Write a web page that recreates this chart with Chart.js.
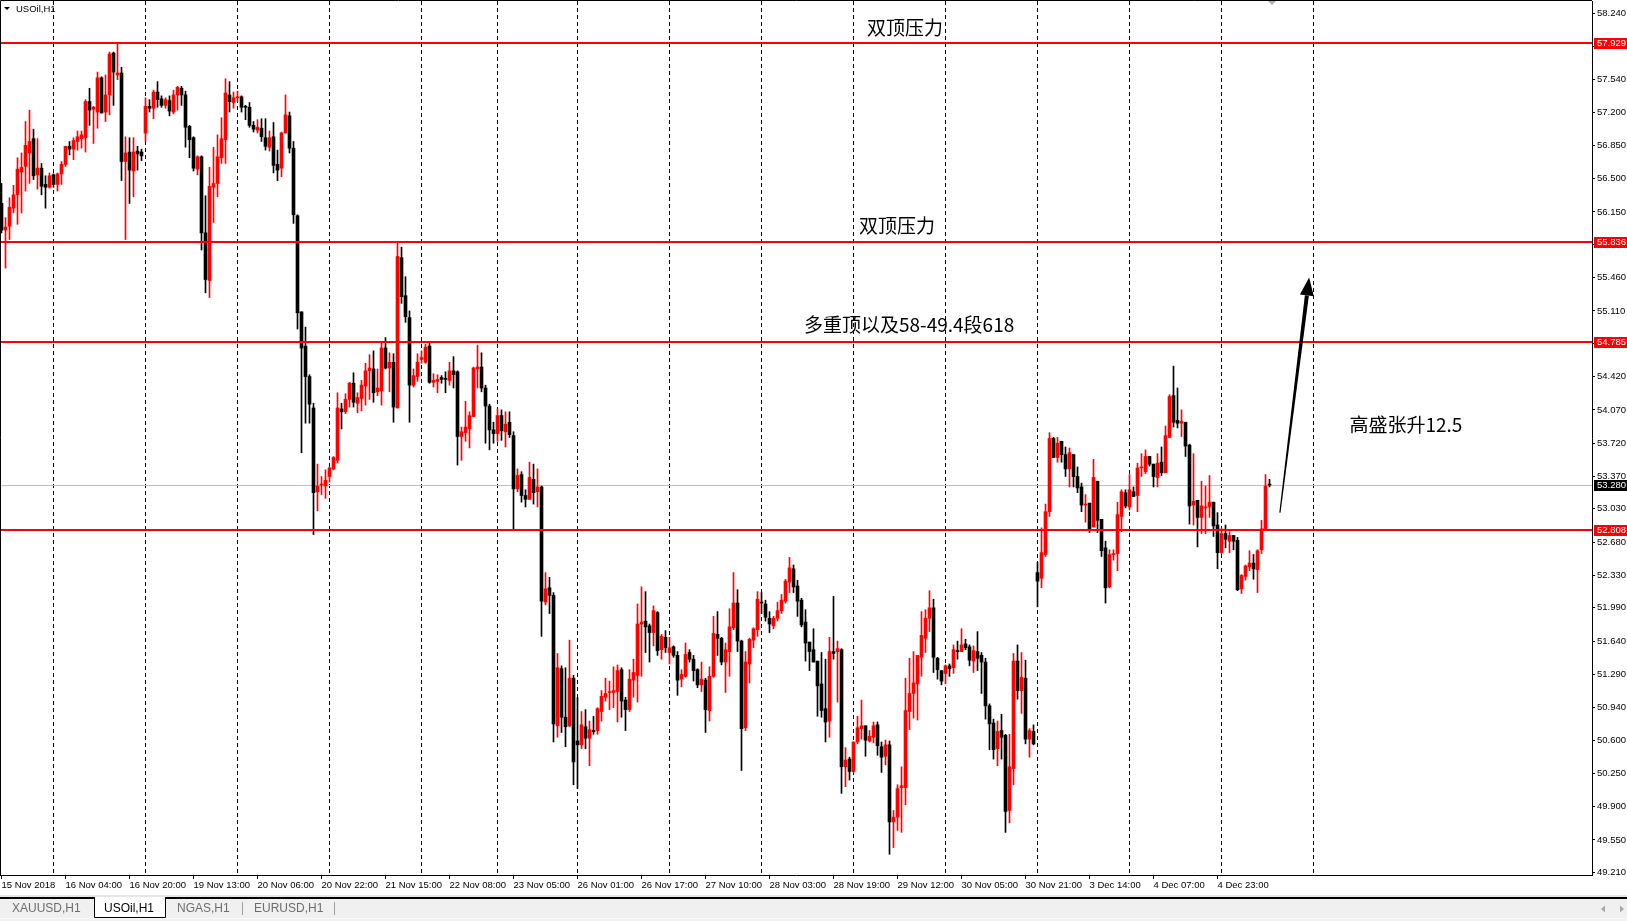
<!DOCTYPE html>
<html><head><meta charset="utf-8">
<script src="https://cdn.jsdelivr.net/npm/chart.js@4.4.1/dist/chart.umd.min.js"></script>
<style>html,body{margin:0;padding:0;background:#fff;overflow:hidden}canvas{display:block}</style>
</head><body>
<canvas id="c" width="1627" height="921"></canvas>
<script>
// ---------- data ----------
const symbol = 'USOil,H1';
const opens = [
56.24,55.96,56.00,56.19,56.33,56.57,56.63,56.77,56.92,56.54,
56.61,56.44,56.41,56.54,56.44,56.55,56.65,56.84,56.81,56.89,
56.92,56.93,57.31,57.23,57.20,57.56,57.20,57.38,57.82,57.59,
57.61,56.68,56.78,56.58,56.79,56.78,56.98,57.26,57.24,57.41,
57.34,57.27,57.32,57.20,57.38,57.45,57.38,57.05,56.93,56.60,
56.73,55.93,55.43,56.41,56.45,56.72,56.91,57.38,57.30,57.35,
57.36,57.26,57.25,57.06,57.01,57.03,56.93,56.83,56.94,56.65,
56.61,56.98,57.16,56.82,56.11,55.10,54.74,54.42,54.09,53.21,
53.28,53.27,53.37,53.45,53.54,54.08,54.05,54.18,54.35,54.14,
54.19,54.32,54.48,54.50,54.26,54.27,54.72,54.51,54.57,54.09,
55.67,55.27,55.04,54.33,54.42,54.60,54.57,54.74,54.36,54.37,
54.41,54.40,54.38,54.48,54.47,53.79,53.83,53.87,54.00,54.50,
54.52,54.30,54.11,53.86,53.82,54.01,53.84,53.94,53.80,53.24,
53.39,53.17,53.13,53.34,53.21,53.26,52.05,52.20,52.12,50.75,
51.35,50.84,50.75,51.25,50.59,50.55,50.74,50.62,50.70,50.70,
50.90,51.05,51.10,51.10,51.11,51.34,51.02,50.92,51.23,51.28,
51.82,51.85,51.80,51.73,51.94,51.55,51.68,51.52,51.58,51.49,
51.24,51.27,51.52,51.45,51.34,51.18,51.23,50.91,51.27,51.71,
51.67,51.42,51.53,51.78,52.04,51.64,50.73,51.40,51.65,51.76,
52.05,52.03,51.88,51.80,51.88,51.96,52.06,52.26,52.40,52.22,
52.07,51.84,51.63,51.55,51.43,51.19,50.93,50.80,51.53,51.53,
51.55,50.32,50.40,50.27,50.58,50.72,50.75,50.59,50.63,50.76,
50.53,50.43,50.55,49.74,49.79,50.10,50.10,50.90,51.09,51.19,
51.47,51.67,51.88,51.99,51.46,51.33,51.30,51.38,51.36,51.54,
51.53,51.61,51.58,51.43,51.53,51.49,51.42,50.96,50.78,50.51,
50.70,50.65,49.86,50.30,51.43,51.12,51.25,50.61,50.69,52.36,
52.30,52.55,53.00,53.77,53.57,53.74,53.60,53.45,53.60,53.37,
53.26,53.07,53.09,52.84,53.32,52.92,52.62,52.21,52.55,52.56,
52.95,53.20,53.05,53.21,53.17,53.46,53.42,53.58,53.50,53.36,
53.52,53.41,53.78,54.22,53.96,53.93,53.94,53.70,53.07,53.12,
52.94,53.04,53.05,53.10,52.86,52.57,52.77,52.69,52.75,52.70,
52.19,52.32,52.42,52.46,52.39,52.60,52.81,53.29];
const highs = [
56.45,56.09,56.30,56.43,56.72,56.77,57.10,57.22,57.02,56.92,
56.66,56.53,56.56,56.55,56.56,56.68,56.84,56.89,56.93,57.00,
57.00,57.33,57.45,57.26,57.62,57.57,57.59,57.83,57.83,57.93,
57.67,56.94,56.93,56.93,56.84,56.81,57.35,57.33,57.43,57.52,
57.37,57.35,57.37,57.43,57.47,57.47,57.42,57.06,56.94,56.74,
56.74,56.32,56.62,56.83,56.96,57.14,57.55,57.52,57.41,57.42,
57.37,57.27,57.30,57.10,57.12,57.13,57.13,57.00,57.09,56.80,
56.99,57.38,57.20,56.89,56.12,55.10,54.94,54.44,54.14,53.50,
53.37,53.44,53.47,53.58,54.25,54.14,54.24,54.36,54.46,54.25,
54.38,54.56,54.65,54.69,54.50,54.77,54.83,54.67,54.66,55.82,
55.78,55.47,55.11,54.50,54.66,54.69,54.76,54.77,54.45,54.44,
54.43,54.47,54.57,54.63,54.48,53.89,54.16,54.05,54.52,54.75,
54.67,54.33,54.13,53.94,54.08,54.07,54.05,54.05,53.84,53.45,
53.42,53.23,53.52,53.50,53.45,53.27,52.36,52.31,52.15,51.51,
51.38,51.36,51.65,51.28,51.05,50.90,50.92,50.80,50.85,50.94,
51.12,51.25,51.22,51.37,51.39,51.36,51.05,51.34,51.45,52.03,
52.21,52.16,51.82,52.01,51.95,51.71,51.75,51.68,51.59,51.53,
51.34,51.62,51.55,51.49,51.35,51.42,51.25,51.37,51.90,51.95,
51.68,51.62,51.98,52.36,52.18,51.65,51.53,51.67,51.78,52.16,
52.15,52.07,51.95,51.90,52.05,52.13,52.29,52.52,52.44,52.28,
52.09,51.97,51.63,51.77,51.43,51.52,51.45,51.68,52.11,51.64,
51.56,50.52,50.42,50.58,50.85,51.02,50.75,50.70,50.79,50.79,
50.58,50.60,50.59,49.86,50.13,50.32,51.25,51.46,51.53,51.49,
51.95,51.97,52.17,52.08,51.47,51.33,51.39,51.40,51.60,51.64,
51.77,51.66,51.60,51.59,51.74,51.52,51.46,50.98,50.82,50.80,
50.87,50.66,50.66,51.51,51.60,51.52,51.44,50.72,50.76,52.47,
52.83,53.08,53.83,53.78,53.78,53.74,53.68,53.67,53.60,53.47,
53.30,53.18,53.09,53.55,53.32,52.92,52.69,52.60,52.60,53.10,
53.23,53.23,53.39,53.26,53.51,53.61,53.65,53.58,53.50,53.61,
53.68,53.90,54.23,54.53,54.30,54.07,53.94,53.71,53.61,53.12,
53.32,53.27,53.38,53.10,52.99,52.83,52.86,52.79,52.75,52.73,
52.34,52.44,52.59,52.55,52.60,52.91,53.39,53.34];
const lows = [
55.93,55.56,55.86,56.14,56.02,56.14,56.37,56.45,56.49,56.39,
56.33,56.19,56.40,56.41,56.37,56.44,56.63,56.75,56.70,56.80,
56.82,56.78,57.06,56.87,57.03,57.19,57.10,57.17,57.27,57.54,
56.48,55.86,56.24,56.31,56.59,56.69,56.89,57.20,57.13,57.25,
57.25,57.24,57.16,57.18,57.22,57.27,56.83,56.72,56.58,56.54,
55.75,55.30,55.25,56.04,56.31,56.66,56.66,57.20,57.24,57.31,
57.20,57.12,57.04,56.99,56.98,56.89,56.80,56.79,56.56,56.48,
56.52,56.98,56.77,56.03,54.92,53.62,53.93,53.93,52.76,53.01,
53.18,53.14,53.31,53.44,53.51,53.87,54.03,54.10,54.10,54.04,
54.06,54.12,54.18,54.15,54.22,54.12,54.50,54.26,53.94,54.09,
55.19,54.99,53.94,54.31,54.37,54.56,54.56,54.35,54.31,54.25,
54.35,54.25,54.33,54.30,53.49,53.54,53.74,53.67,54.00,54.30,
54.26,53.72,53.65,53.72,53.74,53.75,53.68,53.78,52.82,53.21,
53.10,53.05,53.13,53.08,53.05,51.69,52.02,51.93,50.58,50.63,
50.68,50.53,50.74,50.13,50.09,50.51,50.51,50.33,50.66,50.66,
50.80,51.01,50.92,50.94,50.79,50.84,50.70,50.90,51.05,51.00,
51.27,51.52,51.42,51.59,51.49,51.45,51.52,51.40,51.47,51.07,
51.16,51.26,51.42,51.22,51.15,51.11,50.68,50.80,51.26,51.49,
51.39,51.10,51.27,51.76,51.53,50.28,50.70,51.20,51.57,51.69,
51.93,51.85,51.73,51.77,51.85,51.93,52.04,52.15,52.15,51.90,
51.79,51.43,51.33,51.42,50.85,50.84,50.58,50.63,51.45,51.00,
50.04,50.11,50.18,50.26,50.56,50.61,50.43,50.58,50.57,50.44,
50.26,50.34,49.40,49.47,49.65,49.63,49.92,50.71,50.83,50.81,
51.27,51.52,51.74,51.31,51.24,51.18,51.19,51.27,51.30,51.45,
51.53,51.55,51.38,51.31,51.33,51.09,50.82,50.50,50.40,50.33,
50.40,49.63,49.73,50.13,51.03,50.88,50.56,50.42,50.55,52.00,
52.20,52.53,52.95,53.57,53.52,53.52,53.37,53.26,53.26,53.20,
53.00,52.89,52.78,52.84,52.78,52.53,52.04,52.20,52.49,52.38,
52.79,53.04,53.02,53.16,53.00,53.37,53.40,53.48,53.26,53.26,
53.38,53.41,53.78,53.89,53.88,53.79,53.58,52.87,52.86,52.63,
52.77,52.77,52.94,52.74,52.40,52.56,52.62,52.57,52.60,52.17,
52.14,52.28,52.38,52.29,52.15,52.56,52.81,53.26];
const closes = [
55.96,55.99,56.20,56.33,56.60,56.62,56.85,56.89,56.53,56.61,
56.42,56.41,56.53,56.44,56.55,56.65,56.84,56.81,56.90,56.94,
56.96,57.31,57.22,57.25,57.56,57.19,57.38,57.81,57.62,57.61,
56.68,56.77,56.59,56.78,56.76,56.74,57.26,57.24,57.41,57.33,
57.27,57.33,57.21,57.38,57.46,57.38,57.04,56.91,56.61,56.73,
55.93,55.44,56.42,56.45,56.73,56.92,57.40,57.31,57.35,57.36,
57.25,57.25,57.06,57.02,57.04,56.94,56.84,56.93,56.64,56.59,
56.98,57.17,56.82,56.12,55.09,54.72,54.42,54.13,53.20,53.27,
53.29,53.33,53.46,53.57,54.09,54.05,54.18,54.35,54.15,54.20,
54.33,54.48,54.51,54.25,54.30,54.72,54.51,54.57,54.10,55.68,
55.26,55.05,54.33,54.43,54.57,54.62,54.73,54.36,54.38,54.39,
54.39,54.39,54.48,54.44,53.79,53.84,53.89,54.01,54.51,54.52,
54.30,54.11,53.86,53.82,54.01,53.85,53.92,53.81,53.24,53.38,
53.17,53.13,53.36,53.20,53.26,52.06,52.19,52.12,50.77,51.36,
50.84,50.74,51.25,50.37,50.55,50.76,50.62,50.71,50.69,50.93,
51.06,51.09,51.11,51.12,51.33,51.01,50.92,51.24,51.31,51.82,
51.84,51.79,51.73,51.96,51.54,51.69,51.57,51.57,51.49,51.23,
51.29,51.50,51.45,51.33,51.18,51.24,50.92,51.27,51.72,51.67,
51.42,51.55,51.79,52.04,51.64,50.72,51.42,51.66,51.77,52.08,
52.04,51.89,51.82,51.88,51.96,52.07,52.27,52.41,52.21,52.06,
51.81,51.62,51.53,51.42,51.17,50.91,50.79,51.53,51.51,51.56,
50.32,50.39,50.27,50.58,50.73,50.75,50.60,50.64,50.75,50.54,
50.42,50.55,49.74,49.79,50.09,50.12,50.91,51.09,51.20,51.49,
51.70,51.88,51.99,51.47,51.34,51.22,51.38,51.35,51.55,51.53,
51.60,51.57,51.44,51.54,51.46,51.42,50.96,50.77,50.50,50.69,
50.63,49.85,50.32,51.43,51.12,51.26,50.61,50.70,50.56,52.27,
52.57,53.00,53.77,53.57,53.72,53.60,53.45,53.62,53.37,53.25,
53.07,53.08,52.82,53.36,52.91,52.59,52.20,52.55,52.56,52.97,
53.21,53.06,53.23,53.16,53.46,53.47,53.58,53.50,53.37,53.51,
53.41,53.80,54.21,53.94,53.93,53.95,53.69,53.06,53.11,52.94,
53.06,53.05,53.10,52.85,52.57,52.77,52.71,52.75,52.69,52.18,
52.33,52.43,52.46,52.40,52.59,52.82,53.27,53.28];
const timeLabels = ['15 Nov 2018','16 Nov 04:00','16 Nov 20:00','19 Nov 13:00','20 Nov 06:00','20 Nov 22:00',
  '21 Nov 15:00','22 Nov 08:00','23 Nov 05:00','26 Nov 01:00','26 Nov 17:00','27 Nov 10:00','28 Nov 03:00',
  '28 Nov 19:00','29 Nov 12:00','30 Nov 05:00','30 Nov 21:00','3 Dec 14:00','4 Dec 07:00','4 Dec 23:00'];
const barsPerLabel = 16;
const priceTicks = [58.240,57.890,57.540,57.200,56.850,56.500,56.150,55.810,55.460,55.110,54.770,54.420,54.070,
  53.720,53.370,53.030,52.680,52.330,51.990,51.640,51.290,50.940,50.600,50.250,49.900,49.550,49.210];
const dayStarts = [13,36,59,82,105,124,144,167,190,213,236,259,282,305,328];
const levelPrices = [57.929, 55.836, 54.785, 52.808];
const lastPrice = 53.280;
const noteTexts = ['双顶压力','双顶压力','多重顶以及58-49.4段618','高盛张升12.5'];
const noteBars = [225.9, 223.9, 226.9, 351.1];
const notePrices = [58.09, 56.00, 54.96, 53.91];
const arrowBars = [319.6, 326.9];
const arrowPrices = [52.99, 55.46];
const tabNames = ['XAUUSD,H1','USOil,H1','NGAS,H1','EURUSD,H1'];
const activeTab = 1;

// ---------- chart ----------
const UP = '#ff0000', DOWN = '#000000';
const idx = opens.map((_, i) => i);
const barColors = idx.map(i => closes[i] >= opens[i] ? UP : DOWN);
const AXFONT = {family: 'Liberation Sans', size: 9.5};

const decor = {
  id: 'decor',
  beforeDraw(chart) {
    const c = chart.ctx;
    c.save(); c.fillStyle = '#ffffff'; c.fillRect(0, 0, chart.width, chart.height); c.restore();
  },
  beforeDatasetsDraw(chart) {
    const c = chart.ctx, a = chart.chartArea, xs = chart.scales.x, ys = chart.scales.y;
    c.save();
    c.strokeStyle = '#000'; c.lineWidth = 1; c.setLineDash([4, 3]);
    dayStarts.forEach(d => {
      const px = Math.floor(xs.getPixelForValue(d)) + 0.5;
      c.beginPath(); c.moveTo(px, a.top); c.lineTo(px, a.bottom); c.stroke();
    });
    c.setLineDash([]);
    const gy = Math.round(ys.getPixelForValue(lastPrice)) + 0.5;
    c.strokeStyle = '#c0c0c0';
    c.beginPath(); c.moveTo(a.left, gy); c.lineTo(a.right, gy); c.stroke();
    c.restore();
  },
  afterDatasetsDraw(chart) {
    const c = chart.ctx, a = chart.chartArea, ys = chart.scales.y;
    c.save();
    c.strokeStyle = '#ff0000'; c.lineWidth = 2;
    levelPrices.forEach(p => {
      const py = Math.round(ys.getPixelForValue(p));
      c.beginPath(); c.moveTo(a.left, py); c.lineTo(a.right, py); c.stroke();
    });
    c.restore();
  },
  afterDraw(chart) {
    const c = chart.ctx, a = chart.chartArea, xs = chart.scales.x, ys = chart.scales.y;
    const W = chart.width, H = chart.height;
    c.save();
    // price boxes
    c.font = '9.5px "Liberation Sans"'; c.textBaseline = 'middle'; c.textAlign = 'left';
    const box = (p, bg) => {
      const py = Math.round(ys.getPixelForValue(p));
      c.fillStyle = bg; c.fillRect(a.right + 2, py - 5, W - a.right - 2, 11);
      c.fillStyle = '#fff'; c.fillText(p.toFixed(3), a.right + 5, py + 0.5);
    };
    levelPrices.forEach(p => box(p, '#ff0000'));
    box(lastPrice, '#000000');
    // frame
    c.strokeStyle = '#000'; c.lineWidth = 1;
    c.beginPath(); c.moveTo(0.5, a.bottom); c.lineTo(0.5, 0.5); c.lineTo(a.right, 0.5); c.stroke();
    // header
    c.fillStyle = '#000';
    c.beginPath(); c.moveTo(4, 7); c.lineTo(10, 7); c.lineTo(7, 10); c.closePath(); c.fill();
    c.font = '9.5px "Liberation Sans"'; c.textAlign = 'left'; c.textBaseline = 'middle';
    c.fillText(symbol, 16, 9.5);
    // shift marker
    c.fillStyle = '#b0b0b0';
    c.beginPath(); c.moveTo(1268, 1); c.lineTo(1276, 1); c.lineTo(1272, 5); c.closePath(); c.fill();
    // notes
    c.fillStyle = '#000'; c.textAlign = 'center'; c.textBaseline = 'middle';
    noteTexts.forEach((t, k) => {
      c.font = '19px "Noto Sans CJK SC"';
      c.fillText(t, xs.getPixelForValue(noteBars[k]), ys.getPixelForValue(notePrices[k]));
    });
    // arrow
    const x0 = xs.getPixelForValue(arrowBars[0]), y0 = ys.getPixelForValue(arrowPrices[0]);
    const x1 = xs.getPixelForValue(arrowBars[1]), y1 = ys.getPixelForValue(arrowPrices[1]);
    const ang = Math.atan2(y1 - y0, x1 - x0), nx = -Math.sin(ang), ny = Math.cos(ang);
    const hl = 18, hw = 7;
    const bx = x1 - Math.cos(ang) * hl, by = y1 - Math.sin(ang) * hl;
    c.fillStyle = '#000';
    c.beginPath();
    c.moveTo(x0 - nx * 0.6, y0 - ny * 0.6); c.lineTo(x0 + nx * 0.6, y0 + ny * 0.6);
    c.lineTo(bx + nx * 2, by + ny * 2); c.lineTo(bx - nx * 2, by - ny * 2); c.closePath(); c.fill();
    c.beginPath();
    c.moveTo(x1, y1); c.lineTo(bx + nx * hw, by + ny * hw); c.lineTo(bx - nx * hw, by - ny * hw); c.closePath(); c.fill();
    // tab bar
    c.fillStyle = '#e6e6e6'; c.fillRect(0, 895, W, 2);
    c.fillStyle = '#f0f0f0'; c.fillRect(0, 897, W, H - 897);
    c.fillStyle = '#000'; c.fillRect(0, 897, W, 2);
    c.fillStyle = '#fafafa'; c.fillRect(0, 918, W, 1);
    c.font = '12px "Liberation Sans"'; c.textBaseline = 'middle'; c.textAlign = 'left';
    const tabL = [3, 94, 166, 243];
    const tabR = [94, 166, 243, 335];
    const textX = [12, 104, 177, 254];
    tabNames.forEach((t, k) => {
      if (k === activeTab) {
        c.fillStyle = '#fff'; c.fillRect(tabL[k], 897, tabR[k] - tabL[k], 20);
        c.strokeStyle = '#000'; c.lineWidth = 1;
        c.beginPath(); c.moveTo(tabL[k] + 0.5, 897); c.lineTo(tabL[k] + 0.5, 917.5);
        c.lineTo(tabR[k] - 0.5, 917.5); c.lineTo(tabR[k] - 0.5, 897); c.stroke();
        c.fillStyle = '#000';
      } else {
        c.fillStyle = '#6d6d6d';
      }
      c.fillText(t, textX[k], 909);
      if (k >= 2) { c.fillStyle = '#a0a0a0'; c.fillRect(tabR[k] - 1, 902, 1, 13); }
    });
    c.fillStyle = '#a8a8a8';
    c.beginPath(); c.moveTo(1601, 909); c.lineTo(1605, 905.5); c.lineTo(1605, 912.5); c.closePath(); c.fill();
    c.beginPath(); c.moveTo(1624, 909); c.lineTo(1620, 905.5); c.lineTo(1620, 912.5); c.closePath(); c.fill();
    c.restore();
  }
};

new Chart(document.getElementById('c'), {
  type: 'bar',
  data: {
    datasets: [
      {label: 'wick', data: idx.map(i => ({x: i, y: [lows[i], highs[i]]})), backgroundColor: barColors,
       barThickness: 1, grouped: false, order: 2},
      {label: 'body', data: idx.map(i => ({x: i, y: [opens[i], closes[i]]})), backgroundColor: barColors,
       barThickness: 3, minBarLength: 1, grouped: false, order: 1}
    ]
  },
  options: {
    responsive: false, animation: false, devicePixelRatio: 1,
    layout: {padding: {left: 0, right: 0, top: 1, bottom: 26}},
    plugins: {legend: {display: false}, tooltip: {enabled: false}},
    scales: {
      x: {
        type: 'linear', min: -0.375, max: 397.625, offset: false,
        afterBuildTicks: s => { s.ticks = timeLabels.map((t, k) => ({value: k * barsPerLabel})); },
        afterFit: s => { s.height = 20; s.paddingLeft = 0; s.paddingRight = 0; },
        ticks: {autoSkip: false, maxRotation: 0, minRotation: 0, align: 'start', padding: 1, color: '#000',
                font: AXFONT, callback: (v, i) => timeLabels[i]},
        grid: {drawOnChartArea: false, drawTicks: true, tickLength: 4, color: '#000', offset: false},
        border: {display: true, color: '#000', width: 1}
      },
      y: {
        position: 'right', min: 49.182, max: 58.367,
        afterBuildTicks: s => { s.ticks = priceTicks.map(v => ({value: v})); },
        afterFit: s => { s.width = 35; s.paddingTop = 0; s.paddingBottom = 0; },
        ticks: {padding: 2, color: '#000', font: AXFONT, callback: v => Number(v).toFixed(3)},
        grid: {drawOnChartArea: false, drawTicks: true, tickLength: 3, color: '#000'},
        border: {display: true, color: '#000', width: 1}
      }
    }
  },
  plugins: [decor]
});
</script>
</body></html>
